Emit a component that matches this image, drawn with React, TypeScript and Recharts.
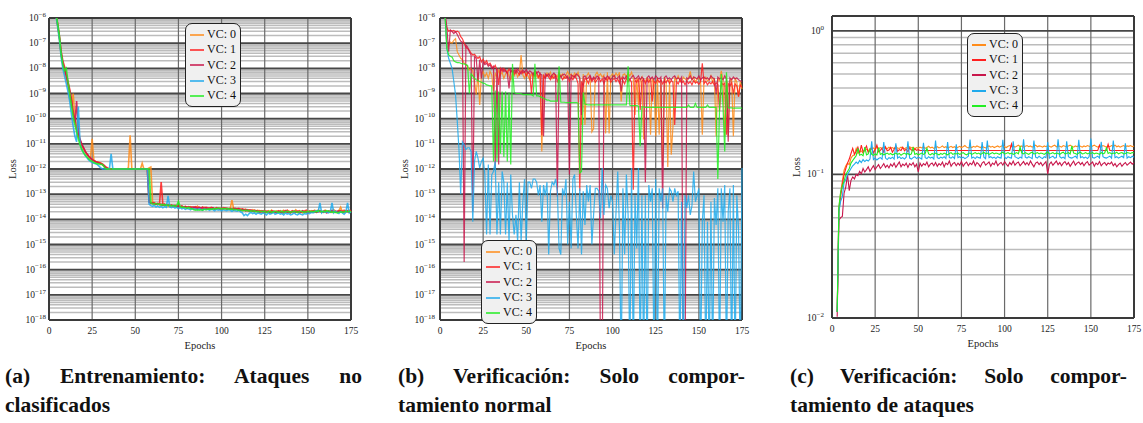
import { LineChart, Line, XAxis, YAxis, CartesianGrid } from 'recharts'

// epochs 3..175 shared by every panel
const epochs = Array.from({ length: 173 }, (_, i) => i + 3)
const epochTicks = [0, 25, 50, 75, 100, 125, 150, 175]
const vcNames = ['VC: 0', 'VC: 1', 'VC: 2', 'VC: 3', 'VC: 4']
const vcColors = ['#ff8c1a', '#ff1f1f', '#c8164b', '#20aaec', '#22ee22']

const lossTicksAB = [1e-18, 1e-17, 1e-16, 1e-15, 1e-14, 1e-13, 1e-12, 1e-11, 1e-10, 1e-9, 1e-8, 1e-7, 1e-6]
const lossTicksC = [1e-2, 1e-1, 1]

// (a) Entrenamiento
const trainVc0 = [
  3e-6, 1.4e-6, 5e-7, 1.6e-7, 3.5e-8, 1.3e-8, 7e-9, 4e-9, 2e-9, 8e-10,
  3e-10, 1e-9, 1.2e-10, 4e-11, 2e-11, 1.2e-11, 8e-12, 6e-12, 4.5e-12, 3.6e-12,
  3e-12, 2.6e-12, 1.6e-11, 2.2e-12, 2e-12, 1.9e-12, 1.8e-12, 1.7e-12, 1.5e-12, 1.3e-12,
  1.1e-12, 1.05e-12, 1e-12, 1e-12, 1e-12, 1e-12, 1e-12, 1e-12, 1e-12, 1e-12,
  1e-12, 1e-12, 1e-12, 1.1e-12, 2.2e-11, 1e-12, 1e-12, 1e-12, 1e-12, 1e-12,
  1e-12, 1.7e-12, 1e-12, 1e-12, 1e-12, 1.1e-12, 1.2e-12, 5e-14, 4.4e-14, 4e-14,
  3.8e-14, 4.2e-14, 3.6e-14, 3.9e-14, 3.5e-14, 3.7e-14, 3.4e-14, 3.3e-14, 3.6e-14, 3.2e-14,
  3.4e-14, 3.1e-14, 3.3e-14, 3e-14, 3.2e-14, 2.9e-14, 3.1e-14, 3e-14, 2.8e-14, 3.2e-14,
  2.9e-14, 3e-14, 2.7e-14, 3.3e-14, 2.8e-14, 2.9e-14, 2.6e-14, 3e-14, 2.7e-14, 2.8e-14,
  2.6e-14, 2.9e-14, 2.7e-14, 2.5e-14, 2.8e-14, 2.6e-14, 2.7e-14, 2.5e-14, 2.6e-14, 2.8e-14,
  2.5e-14, 2.7e-14, 2.6e-14, 5.8e-14, 2.6e-14, 2.5e-14, 2.7e-14, 2.4e-14, 2.6e-14, 2.3e-14,
  2.5e-14, 2.2e-14, 2.4e-14, 2.3e-14, 2.1e-14, 2.4e-14, 2.2e-14, 2.1e-14, 2.3e-14, 2e-14,
  2.2e-14, 2e-14, 2.1e-14, 1.9e-14, 2.2e-14, 2e-14, 2.3e-14, 1.9e-14, 2.1e-14, 2e-14,
  2.2e-14, 1.9e-14, 2.1e-14, 2.3e-14, 1.9e-14, 2e-14, 2.2e-14, 1.8e-14, 2.1e-14, 2e-14,
  2.4e-14, 1.9e-14, 2.1e-14, 2e-14, 1.8e-14, 2.2e-14, 2e-14, 2.1e-14, 1.9e-14, 2.2e-14,
  2e-14, 2.3e-14, 1.9e-14, 2.1e-14, 2.2e-14, 2e-14, 1.9e-14, 2.3e-14, 2e-14, 2.1e-14,
  2.2e-14, 1.9e-14, 2.4e-14, 2.1e-14, 2e-14, 2.2e-14, 3e-14, 2e-14, 1.9e-14, 2.2e-14,
  2.1e-14, 2.3e-14, 2e-14,
]
const trainVc1 = [
  3e-6, 1.6e-6, 6e-7, 2e-7, 5e-8, 2e-8, 1.2e-8, 6e-9, 3e-9, 1.5e-9,
  6e-10, 2e-10, 9e-11, 4e-11, 2.2e-11, 1.4e-11, 9e-12, 7e-12, 5e-12, 4e-12,
  3.3e-12, 2.8e-12, 2.4e-12, 2.2e-12, 2e-12, 1.9e-12, 1.8e-12, 1.7e-12, 1.6e-12, 1.4e-12,
  1.2e-12, 1.1e-12, 1e-12, 1e-12, 1e-12, 1e-12, 1e-12, 1e-12, 1e-12, 1e-12,
  1e-12, 1e-12, 1e-12, 1e-12, 1e-12, 1e-12, 1e-12, 1e-12, 1e-12, 1e-12,
  1e-12, 1e-12, 1e-12, 1e-12, 1e-12, 5e-14, 4.5e-14, 4.2e-14, 4.6e-14, 4e-14,
  4.3e-14, 3.9e-14, 3e-13, 3.8e-14, 4e-14, 3.6e-14, 3.8e-14, 3.5e-14, 3.7e-14, 3.4e-14,
  3.6e-14, 3.3e-14, 3.5e-14, 3.2e-14, 3.4e-14, 3.1e-14, 3.3e-14, 3e-14, 3.2e-14, 2.9e-14,
  3.1e-14, 2.8e-14, 3.2e-14, 2.9e-14, 3e-14, 2.7e-14, 3.1e-14, 2.8e-14, 3e-14, 2.9e-14,
  2.7e-14, 3e-14, 2.8e-14, 2.6e-14, 2.9e-14, 2.7e-14, 2.8e-14, 2.6e-14, 2.9e-14, 2.7e-14,
  2.8e-14, 2.6e-14, 2.7e-14, 2.5e-14, 2.8e-14, 2.6e-14, 2.5e-14, 2.7e-14, 2.4e-14, 2.6e-14,
  2.3e-14, 2.5e-14, 2.2e-14, 2.4e-14, 2.3e-14, 2.1e-14, 2.3e-14, 2.2e-14, 2e-14, 2.2e-14,
  2.1e-14, 1.9e-14, 2.2e-14, 2e-14, 2.1e-14, 1.8e-14, 2.2e-14, 2e-14, 1.9e-14, 2.1e-14,
  2e-14, 2.2e-14, 1.8e-14, 2.1e-14, 2e-14, 2.3e-14, 1.9e-14, 2e-14, 2.2e-14, 1.9e-14,
  2.1e-14, 2e-14, 2.2e-14, 1.9e-14, 2.1e-14, 2e-14, 2.3e-14, 1.9e-14, 2.1e-14, 2e-14,
  2.2e-14, 1.9e-14, 2.1e-14, 2.3e-14, 2e-14, 2.1e-14, 1.9e-14, 2.2e-14, 2e-14, 2.1e-14,
  2e-14, 2.3e-14, 2e-14, 2.1e-14, 1.9e-14, 2.2e-14, 2e-14, 2.1e-14, 2.3e-14, 2e-14,
  2.2e-14, 2.1e-14, 2.3e-14,
]
const trainVc2 = [
  3e-6, 1.5e-6, 5.5e-7, 1.8e-7, 4e-8, 1.6e-8, 9e-9, 5e-9, 2.5e-9, 1.2e-9,
  5e-10, 1.5e-10, 7e-11, 5e-10, 3e-11, 1.5e-11, 1e-11, 7e-12, 5e-12, 4e-12,
  3.2e-12, 2.7e-12, 2.3e-12, 2.1e-12, 1.9e-12, 1.8e-12, 1.7e-12, 1.6e-12, 1.5e-12, 1.3e-12,
  1.1e-12, 1e-12, 1e-12, 1e-12, 1e-12, 1e-12, 1e-12, 1e-12, 1e-12, 1e-12,
  1e-12, 1e-12, 1e-12, 1e-12, 1e-12, 1e-12, 1e-12, 1e-12, 1e-12, 1e-12,
  1e-12, 1e-12, 1e-12, 1e-12, 1e-12, 4.8e-14, 4.3e-14, 4.5e-14, 4.1e-14, 3.9e-14,
  4.2e-14, 3.8e-14, 4e-14, 3.7e-14, 3.9e-14, 3.5e-14, 3.7e-14, 3.4e-14, 3.6e-14, 3.3e-14,
  3.5e-14, 3.2e-14, 3.4e-14, 3.1e-14, 3.3e-14, 3e-14, 3.2e-14, 2.9e-14, 3.1e-14, 3e-14,
  2.8e-14, 3.1e-14, 2.9e-14, 2.7e-14, 3e-14, 2.8e-14, 2.9e-14, 2.7e-14, 2.9e-14, 2.6e-14,
  2.8e-14, 2.7e-14, 2.9e-14, 2.6e-14, 2.7e-14, 2.8e-14, 2.5e-14, 2.7e-14, 2.6e-14, 2.8e-14,
  2.6e-14, 2.5e-14, 2.7e-14, 2.6e-14, 2.4e-14, 2.7e-14, 2.5e-14, 2.6e-14, 2.3e-14, 2.5e-14,
  2.4e-14, 2.2e-14, 2.4e-14, 2.1e-14, 2.3e-14, 2.2e-14, 2e-14, 2.2e-14, 2.1e-14, 1.9e-14,
  2e-14, 2.2e-14, 1.8e-14, 2.1e-14, 1.9e-14, 2e-14, 1.8e-14, 2.1e-14, 2e-14, 1.8e-14,
  2.1e-14, 1.9e-14, 2e-14, 1.8e-14, 2.2e-14, 1.9e-14, 2e-14, 1.8e-14, 2e-14, 2.1e-14,
  1.9e-14, 2.1e-14, 1.8e-14, 2e-14, 2.2e-14, 1.9e-14, 2e-14, 1.8e-14, 2.1e-14, 1.9e-14,
  2e-14, 2.1e-14, 1.9e-14, 2e-14, 2.2e-14, 1.9e-14, 2.1e-14, 2e-14, 1.8e-14, 2.1e-14,
  1.9e-14, 2.2e-14, 2e-14, 1.9e-14, 2.1e-14, 2e-14, 2.2e-14, 1.9e-14, 2e-14, 2.1e-14,
  2e-14, 1.9e-14, 2.1e-14,
]
const trainVc3 = [
  3e-6, 1.3e-6, 4.5e-7, 1.4e-7, 3e-8, 1e-8, 5e-9, 2.5e-9, 1.2e-9, 5e-10,
  1.5e-10, 5e-11, 2e-11, 1.2e-11, 3e-10, 1e-11, 6e-12, 4.5e-12, 3.5e-12, 2.8e-12,
  2.3e-12, 2e-12, 1.8e-12, 1.7e-12, 1.6e-12, 1.5e-12, 1.3e-12, 1.1e-12, 1e-12, 1e-12,
  1e-12, 1e-12, 1e-12, 4e-12, 1e-12, 1e-12, 1e-12, 1e-12, 1e-12, 1e-12,
  1e-12, 1e-12, 1e-12, 1e-12, 1e-12, 1e-12, 1e-12, 1e-12, 1e-12, 1e-12,
  1e-12, 1e-12, 1e-12, 1e-12, 1e-12, 4e-14, 3.5e-14, 3.3e-14, 3.6e-14, 3.1e-14,
  3.4e-14, 3e-14, 3.3e-14, 2.9e-14, 3.2e-14, 3e-14, 8.5e-14, 3.1e-14, 2.9e-14, 3.2e-14,
  2.8e-14, 3e-14, 2.7e-14, 2.9e-14, 2.6e-14, 2.8e-14, 2.5e-14, 2.7e-14, 2.6e-14, 2.4e-14,
  2.7e-14, 2.5e-14, 2.6e-14, 2.4e-14, 2.6e-14, 2.5e-14, 2.3e-14, 2.6e-14, 2.4e-14, 2.5e-14,
  2.3e-14, 2.5e-14, 2.4e-14, 2.2e-14, 2.5e-14, 2.3e-14, 2.4e-14, 2.2e-14, 2.4e-14, 2.3e-14,
  2.2e-14, 2.4e-14, 2.3e-14, 2.1e-14, 2.3e-14, 2.2e-14, 2.1e-14, 2.3e-14, 2e-14, 1.8e-14,
  1.4e-14, 1.6e-14, 1.4e-14, 1.7e-14, 1.9e-14, 1.7e-14, 1.8e-14, 1.6e-14, 1.8e-14, 1.7e-14,
  1.6e-14, 1.8e-14, 1.7e-14, 1.5e-14, 1.8e-14, 1.6e-14, 1.7e-14, 1.9e-14, 1.6e-14, 1.7e-14,
  1.8e-14, 1.6e-14, 1.7e-14, 1.5e-14, 1.8e-14, 1.6e-14, 1.7e-14, 1.5e-14, 1.6e-14, 1.8e-14,
  1.6e-14, 1.5e-14, 1.7e-14, 1.6e-14, 1.5e-14, 1.7e-14, 1.6e-14, 1.8e-14, 1.7e-14, 1.9e-14,
  1.8e-14, 2e-14, 2.2e-14, 2e-14, 4.5e-14, 1.8e-14, 2.1e-14, 1.9e-14, 2e-14, 1.8e-14,
  2e-14, 4.5e-14, 1.8e-14, 2.1e-14, 1.9e-14, 1.7e-14, 2e-14, 1.8e-14, 1.6e-14, 1.9e-14,
  4.5e-14, 1.8e-14, 2e-14,
]
const trainVc4 = [
  3e-6, 1.5e-6, 6e-7, 2e-7, 4e-8, 1.5e-8, 8e-9, 1e-8, 3e-9, 1e-9,
  3.5e-10, 1.2e-10, 6e-11, 3e-11, 1.6e-11, 9e-12, 6e-12, 4.5e-12, 3.5e-12, 3e-12,
  2.5e-12, 2.2e-12, 2e-12, 1.8e-12, 1.7e-12, 1.6e-12, 1.6e-12, 1.5e-12, 1.5e-12, 1.2e-12,
  1e-12, 1e-12, 1e-12, 1e-12, 1e-12, 1e-12, 1e-12, 1e-12, 1e-12, 1e-12,
  1e-12, 1e-12, 1e-12, 1e-12, 1e-12, 1e-12, 1e-12, 1e-12, 1e-12, 1e-12,
  1e-12, 1e-12, 1e-12, 1e-12, 1e-12, 1e-12, 4.5e-14, 4.2e-14, 4e-14, 4.3e-14,
  3.9e-14, 4.1e-14, 3.7e-14, 3.9e-14, 3.6e-14, 3.8e-14, 3.5e-14, 3.7e-14, 3.4e-14, 3.6e-14,
  3.3e-14, 3.5e-14, 5e-14, 3.2e-14, 3e-14, 3.1e-14, 2.9e-14, 2.8e-14, 3e-14, 2.7e-14,
  2.6e-14, 2.4e-14, 2.3e-14, 2.4e-14, 2.3e-14, 2.4e-14, 2.3e-14, 2.5e-14, 2.4e-14, 2.5e-14,
  2.6e-14, 2.5e-14, 2.6e-14, 2.7e-14, 2.6e-14, 2.8e-14, 2.7e-14, 2.6e-14, 2.7e-14, 2.6e-14,
  2.7e-14, 2.6e-14, 2.5e-14, 2.6e-14, 2.4e-14, 2.5e-14, 2.4e-14, 2.3e-14, 2.4e-14, 2.2e-14,
  2.3e-14, 2.2e-14, 2.3e-14, 2.1e-14, 2.2e-14, 2.1e-14, 2.2e-14, 2e-14, 2.1e-14, 2e-14,
  2.1e-14, 2e-14, 2.1e-14, 1.9e-14, 2e-14, 2.1e-14, 1.9e-14, 2e-14, 2.1e-14, 2e-14,
  1.9e-14, 2e-14, 2.1e-14, 1.9e-14, 2e-14, 2.1e-14, 2e-14, 1.9e-14, 2e-14, 2.1e-14,
  2e-14, 1.9e-14, 2e-14, 2.1e-14, 2e-14, 1.9e-14, 2e-14, 2.1e-14, 2e-14, 2.1e-14,
  2e-14, 2.1e-14, 2e-14, 2.2e-14, 2.1e-14, 2e-14, 2.1e-14, 2e-14, 2.2e-14, 2.1e-14,
  2e-14, 1.9e-14, 2e-14, 1.9e-14, 1.8e-14, 1.9e-14, 2e-14, 1.9e-14, 2e-14, 2.1e-14,
  2e-14, 2.1e-14, 2e-14,
]

// (b) Verificación, comportamiento normal (1e-20 = below the axis floor)
const normalVc0 = [
  1e-6, 6e-8, 8.5e-8, 1.1e-7, 1e-7, 1.3e-7, 1.5e-7, 4.6e-8, 3.4e-8, 2.5e-8,
  2.2e-8, 1.6e-8, 1.4e-8, 1.2e-8, 8.6e-9, 1e-8, 7.5e-9, 3e-9, 9e-10, 6.3e-9,
  3.5e-10, 5.5e-9, 7.5e-9, 4.7e-9, 6.5e-9, 4e-9, 7.5e-9, 5.5e-9, 1.2e-9, 6.3e-9,
  4.7e-9, 8.6e-9, 5.5e-9, 7e-9, 4e-9, 6e-9, 8e-9, 5e-9, 3.5e-9, 6.5e-9,
  5e-9, 7.5e-9, 4.5e-9, 6e-9, 3.4e-8, 5.5e-9, 4e-9, 6.5e-9, 5e-9, 3.5e-9,
  6e-9, 4.5e-9, 7e-9, 5e-9, 4e-9, 6e-9, 5e-12, 5.5e-9, 4.5e-9, 6.5e-9,
  5e-9, 7e-9, 4e-9, 6e-9, 5.5e-9, 4.5e-9, 7e-9, 5e-9, 6e-9, 4e-9,
  5.5e-9, 7.5e-9, 5e-9, 6e-9, 4.5e-9, 6.5e-9, 5e-9, 7e-9, 4e-9, 5.6e-11,
  6e-9, 5.6e-11, 5e-9, 6.5e-9, 4.5e-9, 3e-11, 4e-11, 5.5e-9, 7e-9, 5e-9,
  6e-9, 4.5e-9, 5.5e-9, 2.6e-11, 7e-9, 2.6e-11, 5e-9, 6e-9, 4.5e-9, 6.5e-9,
  5e-9, 7e-9, 4.8e-10, 5.5e-9, 6e-9, 4.5e-9, 6.5e-9, 5e-9, 7e-9, 4e-9,
  1.4e-10, 4.2e-9, 3.5e-10, 3.5e-9, 4.5e-9, 1.5e-11, 3.2e-9, 4.2e-9, 3.5e-9, 2.3e-11,
  3.8e-9, 2.8e-9, 2e-11, 4.2e-9, 2.3e-11, 3.5e-9, 1.3e-12, 4.5e-9, 3.2e-9, 1.2e-12,
  3.8e-9, 3.7e-12, 5e-11, 4.2e-9, 3.2e-9, 5e-9, 3.5e-9, 2.8e-9, 4.5e-9, 3.8e-9,
  3.2e-9, 4.2e-9, 7.5e-9, 3.5e-9, 4.5e-9, 2.8e-9, 3.8e-9, 4.2e-9, 3.2e-9, 2.3e-11,
  3.8e-9, 4.5e-9, 3.2e-9, 3.5e-9, 5e-9, 2.8e-9, 4.2e-9, 2e-11, 3.8e-9, 3.2e-9,
  8e-9, 3.5e-9, 2e-11, 4.2e-9, 2e-11, 3.2e-9, 3.8e-9, 2e-11, 4.2e-9, 2.8e-9,
  7.5e-10, 3e-9, 1.5e-9,
]
const normalVc1 = [
  1e-6, 4e-7, 3e-7, 3.3e-7, 3e-7, 3.2e-7, 2.8e-7, 3e-7, 2.7e-7, 1.8e-7,
  1.5e-7, 1e-7, 7e-8, 6e-8, 5.3e-8, 4e-8, 3.4e-8, 3.6e-8, 2.9e-8, 2.5e-8,
  2.9e-8, 1.8e-8, 2.3e-8, 1.6e-8, 2e-8, 1.4e-8, 1.6e-8, 1.2e-8, 1e-8, 1.3e-8,
  8.6e-9, 2.2e-9, 1e-8, 7.5e-9, 1e-8, 7.8e-9, 6.3e-9, 9.4e-9, 7e-9, 8.5e-9,
  6e-9, 9e-9, 7e-9, 5.5e-9, 8e-9, 6.5e-9, 7.5e-9, 5e-9, 7e-9, 6e-9,
  1e-9, 6.5e-9, 5e-9, 7e-9, 4.5e-9, 6e-9, 2.2e-11, 5e-9, 4e-9, 5.5e-9,
  4.5e-9, 3.5e-9, 5e-9, 4e-9, 5.5e-9, 3e-9, 4.5e-9, 5e-9, 3.5e-9, 4.5e-9,
  4e-9, 5e-9, 3e-9, 4.5e-9, 3.5e-9, 5e-9, 4e-9, 2.5e-9, 1.3e-13, 3e-9,
  2e-9, 4e-9, 3.5e-9, 2.5e-9, 4.5e-9, 3e-9, 4e-9, 2.8e-9, 3.5e-9, 4.5e-9,
  3e-9, 3.8e-9, 2.5e-9, 4e-9, 3.2e-9, 4.5e-9, 2.8e-9, 3.5e-9, 4e-9, 3e-9,
  3.8e-9, 2.6e-9, 4.2e-9, 3.2e-9, 2.4e-9, 4e-9, 3e-9, 3.6e-9, 2.8e-9, 1.5e-13,
  3.5e-9, 2.8e-9, 4e-9, 2.2e-10, 3e-9, 3.8e-9, 2.5e-9, 3.5e-9, 2.8e-9, 4e-9,
  4.8e-10, 3.2e-9, 2.5e-9, 3.8e-9, 2.8e-9, 3.5e-9, 2.4e-9, 3.2e-9, 2.7e-9, 3.6e-9,
  2.5e-9, 3.3e-9, 2.8e-9, 5.6e-11, 3e-9, 2.4e-9, 3.4e-9, 2.6e-9, 3.1e-9, 2.2e-9,
  3.2e-9, 2.5e-9, 3e-9, 2.2e-9, 3.3e-9, 2.6e-9, 2.9e-9, 2.3e-9, 3e-9, 1.6e-8,
  2.5e-9, 3.1e-9, 2.2e-9, 2.8e-9, 2.4e-9, 3e-9, 2.1e-9, 2.7e-9, 2.3e-9, 2e-10,
  2.8e-9, 2.2e-9, 2.6e-9, 2.3e-11, 2.5e-9, 2e-9, 2.7e-9, 1e-9, 2.4e-9, 2e-9,
  7.5e-10, 2.2e-9, 1.8e-9,
]
const normalVc2 = [
  1.5e-6, 4e-7, 4.6e-8, 3.3e-7, 2.9e-7, 2.4e-7, 2.9e-7, 2.2e-7, 1.6e-7, 1.2e-7,
  1.1e-7, 2e-16, 8.5e-8, 7e-8, 4.6e-8, 3.4e-8, 2e-14, 2.9e-8, 2.5e-8, 3e-9,
  2.2e-8, 4e-9, 1.8e-8, 1.4e-8, 1.6e-8, 1.2e-8, 1.4e-8, 1e-8, 1.2e-8, 1.1e-12,
  1e-8, 1.5e-12, 8.6e-9, 1e-8, 7.5e-9, 8.6e-9, 6.3e-9, 1.6e-9, 9e-9, 7e-9,
  8.5e-9, 6.5e-9, 9.5e-9, 7.5e-9, 6e-9, 8.5e-9, 7e-9, 9e-9, 6.5e-9, 8e-9,
  7e-9, 5.5e-9, 8e-9, 6.5e-9, 7.5e-9, 6e-9, 5.5e-9, 2e-11, 6e-9, 5e-9,
  6e-9, 4.5e-9, 5.5e-9, 6.5e-9, 5e-9, 8e-14, 6e-9, 4.5e-9, 5.5e-9, 6e-9,
  5e-9, 4.2e-9, 6e-13, 5.5e-9, 5e-9, 4.5e-9, 6e-9, 5.2e-9, 4.2e-9, 1.4e-10,
  4.5e-9, 5e-9, 3.8e-9, 4.2e-9, 5.2e-9, 3.5e-9, 4.5e-9, 3.8e-9, 5e-9, 4.2e-9,
  1e-20, 1e-20, 4.5e-9, 3.8e-9, 5e-9, 4.2e-9, 3.5e-9, 4.5e-9, 5.2e-9, 3.8e-9,
  4.2e-9, 5e-9, 1.2e-9, 4.5e-9, 3.8e-9, 5e-9, 4.2e-9, 3.5e-9, 4.5e-9, 5.2e-9,
  3.8e-9, 4.2e-9, 5e-9, 3.5e-9, 4.5e-9, 3.8e-9, 3e-13, 4.2e-9, 5e-9, 3.8e-9,
  4.5e-9, 3.5e-9, 5e-9, 4.2e-9, 3.8e-9, 4.5e-9, 2.7e-14, 4.2e-9, 5e-9, 3.8e-9,
  4.2e-9, 3.5e-9, 4.5e-9, 5e-9, 3.8e-9, 4.2e-9, 3.5e-9, 4.5e-9, 1e-20, 1e-20,
  4.2e-9, 3.8e-9, 5e-9, 3.5e-9, 4.5e-9, 4.2e-9, 3.8e-9, 5e-9, 3.5e-9, 4.2e-9,
  4.5e-9, 3.8e-9, 4.2e-9, 3.5e-9, 5e-9, 4.2e-9, 3.8e-9, 1e-9, 4.5e-9, 3.8e-9,
  4.2e-9, 3.5e-9, 5e-9, 3.8e-9, 1.2e-11, 4.2e-9, 3.5e-9, 4.5e-9, 3.8e-9, 4.2e-9,
  3.5e-9, 3.2e-9, 3e-9,
]
const normalVc3 = [
  1e-6, 6e-8, 2.5e-8, 1.6e-8, 1e-8, 3e-9, 9e-10, 8e-11, 6e-12, 1e-13,
  1.2e-11, 9e-12, 6e-12, 7e-12, 7e-12, 5e-12, 8e-15, 2e-12, 5e-12, 2.7e-12,
  1.1e-12, 2e-12, 2.7e-12, 6e-13, 2.5e-15, 1.5e-12, 2.5e-15, 6e-13, 8e-13, 2e-12,
  2.5e-15, 3e-13, 2.5e-15, 8e-13, 3e-13, 2.5e-15, 3e-13, 1.3e-15, 6e-13, 1.5e-14,
  2.5e-15, 1.5e-14, 1.3e-15, 3e-13, 1.3e-15, 5e-14, 4e-13, 1.3e-15, 3e-13, 3e-13,
  1.7e-13, 4e-13, 4e-13, 3e-13, 9e-14, 2.3e-13, 8e-15, 2.3e-13, 9e-14, 3e-13,
  4e-16, 1.3e-13, 3e-13, 2.3e-13, 4e-13, 1.3e-13, 7e-16, 4e-16, 1.7e-13, 9e-14,
  4e-13, 1e-15, 5e-14, 7e-16, 4e-13, 6e-13, 1.5e-14, 7e-16, 1.7e-13, 4e-16,
  1.3e-13, 6e-15, 2.3e-13, 5e-14, 2.3e-13, 1e-15, 1.5e-14, 1.7e-13, 1.7e-13, 1.3e-13,
  1.1e-14, 1.1e-12, 1.5e-14, 2.3e-13, 1.7e-13, 2.8e-14, 9e-14, 5e-14, 4e-16, 2e-14,
  8e-13, 4e-15, 1e-20, 1.7e-13, 4e-16, 6e-13, 1.5e-14, 1e-20, 1.1e-12, 1e-20,
  9e-14, 7e-16, 1.1e-12, 1e-20, 9e-14, 1e-20, 9e-14, 1e-20, 2.3e-13, 5e-14,
  1.7e-13, 1e-20, 4e-13, 1e-20, 1.7e-13, 5e-14, 1.7e-13, 1e-20, 9e-14, 2e-14,
  1.7e-13, 1.3e-13, 5e-14, 1.7e-13, 9e-14, 1.3e-13, 1e-20, 5e-14, 1e-20, 9e-14,
  2.8e-14, 9e-14, 1.5e-14, 3.5e-14, 8e-13, 5e-14, 9e-14, 1.7e-13, 1e-20, 8e-15,
  9e-14, 1e-20, 8e-15, 1e-20, 5e-14, 1e-20, 7e-14, 6e-15, 1.7e-13, 1e-20,
  1.7e-13, 8e-15, 2.3e-13, 1e-20, 2e-14, 1.7e-13, 1e-20, 2.3e-13, 1e-20, 9e-14,
  4e-15, 1e-20, 1.1e-12,
]
const normalVc4 = [
  1.2e-6, 6e-8, 3.5e-8, 3e-8, 2.8e-8, 2e-8, 1.8e-8, 1.7e-8, 1.7e-8, 1.6e-8,
  1.5e-8, 1.5e-8, 1.4e-8, 1.3e-8, 1e-9, 6e-9, 5e-9, 4e-9, 3.5e-9, 3.2e-9,
  3e-9, 2.8e-9, 2.6e-9, 2.5e-9, 2.2e-9, 2.1e-9, 2e-9, 2e-9, 2e-12, 1.3e-9,
  2e-12, 1.2e-9, 4e-12, 1.2e-9, 3e-12, 1.2e-9, 2e-12, 1.1e-9, 1.5e-12, 1.5e-8,
  1.1e-9, 1e-9, 1e-9, 1e-9, 1e-9, 9e-10, 9e-10, 9e-10, 9e-10, 9e-10,
  9e-10, 8e-10, 1.5e-8, 8e-10, 8e-10, 7.5e-10, 7e-10, 6.5e-10, 6e-10, 5.5e-10,
  5.5e-10, 5e-10, 5e-10, 5e-10, 5e-10, 5e-10, 1.2e-8, 4.5e-10, 4.5e-10, 4.5e-10,
  4.3e-10, 4.3e-10, 4.3e-10, 4.3e-10, 4.3e-10, 4.3e-10, 4.3e-10, 4.2e-10, 7e-13, 8e-13,
  1.1e-9, 3.8e-10, 3.6e-10, 3.5e-10, 3.5e-10, 3.5e-10, 3.5e-10, 3.5e-10, 3.5e-10, 3.5e-10,
  3.5e-10, 3.5e-10, 3.5e-10, 3.5e-10, 3.5e-10, 3.5e-10, 3.5e-10, 3.5e-10, 3.5e-10, 3.5e-10,
  3.5e-10, 3.5e-10, 3.5e-10, 3.5e-10, 3.5e-10, 3.5e-10, 1.2e-8, 3.4e-10, 3.3e-10, 3.3e-10,
  3.3e-10, 3.3e-10, 3.2e-10, 8e-12, 3e-10, 2.9e-10, 2.8e-10, 2.8e-10, 2.8e-10, 2.8e-10,
  2.8e-10, 2.8e-10, 2.8e-10, 2.8e-10, 2.8e-10, 2.8e-10, 2.8e-10, 2.8e-10, 2.8e-10, 2.8e-10,
  2.8e-10, 2.8e-10, 2.8e-10, 2.8e-10, 2.8e-10, 2.8e-10, 2.8e-10, 2.8e-10, 2.8e-10, 2.8e-10,
  2.8e-10, 3.5e-10, 2.8e-10, 2.8e-10, 2.8e-10, 4e-10, 2.8e-10, 2.8e-10, 2.8e-10, 2.8e-10,
  2.8e-10, 2.8e-10, 3.5e-10, 2.8e-10, 2.8e-10, 2.8e-10, 2.8e-10, 2.8e-10, 4e-13, 2.8e-10,
  6e-9, 3e-10, 5e-12, 7e-9, 2.7e-10, 2.7e-10, 2.7e-10, 2.6e-10, 2.6e-10, 2.6e-10,
  2.6e-10, 2.6e-10, 2.6e-10,
]

// (c) Verificación, comportamiento de ataques
const attackVc0 = [
  0.011, 0.058, 0.075, 0.09, 0.107, 0.115, 0.12, 0.117, 0.13, 0.135,
  0.137, 0.152, 0.14, 0.144, 0.146, 0.141, 0.148, 0.15, 0.146, 0.151,
  0.149, 0.153, 0.15, 0.155, 0.151, 0.154, 0.152, 0.156, 0.153, 0.151,
  0.155, 0.152, 0.154, 0.151, 0.156, 0.153, 0.152, 0.155, 0.153, 0.151,
  0.154, 0.152, 0.156, 0.153, 0.155, 0.151, 0.154, 0.152, 0.155, 0.153,
  0.156, 0.152, 0.154, 0.157, 0.153, 0.155, 0.152, 0.154, 0.156, 0.153,
  0.155, 0.158, 0.154, 0.156, 0.153, 0.155, 0.157, 0.154, 0.156, 0.153,
  0.155, 0.157, 0.154, 0.156, 0.159, 0.155, 0.153, 0.156, 0.154, 0.157,
  0.155, 0.158, 0.156, 0.154, 0.157, 0.155, 0.153, 0.156, 0.158, 0.155,
  0.157, 0.154, 0.156, 0.158, 0.155, 0.157, 0.159, 0.156, 0.154, 0.157,
  0.159, 0.156, 0.158, 0.155, 0.157, 0.16, 0.156, 0.158, 0.155, 0.157,
  0.159, 0.156, 0.158, 0.155, 0.157, 0.16, 0.156, 0.158, 0.157, 0.155,
  0.158, 0.156, 0.159, 0.157, 0.155, 0.158, 0.16, 0.156, 0.158, 0.157,
  0.155, 0.159, 0.157, 0.156, 0.158, 0.16, 0.157, 0.155, 0.158, 0.156,
  0.159, 0.157, 0.155, 0.158, 0.156, 0.159, 0.157, 0.155, 0.158, 0.16,
  0.157, 0.155, 0.158, 0.156, 0.159, 0.157, 0.155, 0.158, 0.156, 0.159,
  0.157, 0.16, 0.156, 0.158, 0.155, 0.157, 0.159, 0.156, 0.158, 0.157,
  0.159, 0.156, 0.158,
]
const attackVc1 = [
  0.011, 0.056, 0.07, 0.085, 0.1, 0.11, 0.12, 0.128, 0.14, 0.152,
  0.138, 0.145, 0.155, 0.14, 0.16, 0.143, 0.15, 0.158, 0.142, 0.148,
  0.155, 0.141, 0.149, 0.16, 0.144, 0.147, 0.152, 0.143, 0.156, 0.146,
  0.148, 0.154, 0.143, 0.15, 0.158, 0.145, 0.149, 0.147, 0.155, 0.146,
  0.15, 0.144, 0.153, 0.148, 0.146, 0.151, 0.147, 0.149, 0.147, 0.147,
  0.147, 0.147, 0.147, 0.147, 0.147, 0.147, 0.147, 0.147, 0.147, 0.147,
  0.147, 0.147, 0.147, 0.147, 0.147, 0.147, 0.147, 0.147, 0.147, 0.147,
  0.147, 0.147, 0.147, 0.147, 0.147, 0.147, 0.147, 0.147, 0.147, 0.147,
  0.147, 0.147, 0.147, 0.147, 0.147, 0.147, 0.147, 0.147, 0.147, 0.147,
  0.147, 0.147, 0.147, 0.147, 0.147, 0.147, 0.147, 0.147, 0.147, 0.147,
  0.147, 0.163, 0.147, 0.147, 0.147, 0.147, 0.147, 0.147, 0.147, 0.147,
  0.147, 0.147, 0.147, 0.147, 0.147, 0.147, 0.147, 0.147, 0.147, 0.147,
  0.147, 0.147, 0.147, 0.147, 0.147, 0.147, 0.147, 0.147, 0.147, 0.147,
  0.147, 0.147, 0.147, 0.147, 0.147, 0.147, 0.147, 0.147, 0.147, 0.147,
  0.147, 0.147, 0.147, 0.147, 0.147, 0.147, 0.147, 0.147, 0.147, 0.147,
  0.147, 0.147, 0.16, 0.147, 0.147, 0.147, 0.147, 0.162, 0.147, 0.147,
  0.147, 0.147, 0.147, 0.147, 0.147, 0.147, 0.147, 0.147, 0.147, 0.147,
  0.147, 0.147, 0.147,
]
const attackVc2 = [
  0.0102, 0.048, 0.05, 0.051, 0.074, 0.082, 0.1, 0.077, 0.091, 0.096,
  0.093, 0.1, 0.098, 0.105, 0.101, 0.11, 0.104, 0.108, 0.113, 0.105,
  0.11, 0.115, 0.108, 0.113, 0.117, 0.11, 0.114, 0.119, 0.112, 0.116,
  0.111, 0.118, 0.114, 0.12, 0.112, 0.117, 0.122, 0.113, 0.118, 0.115,
  0.12, 0.112, 0.119, 0.116, 0.121, 0.113, 0.118, 0.104, 0.12, 0.114,
  0.119, 0.116, 0.122, 0.113, 0.118, 0.12, 0.115, 0.121, 0.114, 0.119,
  0.116, 0.122, 0.113, 0.12, 0.117, 0.124, 0.114, 0.119, 0.121, 0.115,
  0.12, 0.116, 0.123, 0.114, 0.119, 0.122, 0.115, 0.12, 0.117, 0.124,
  0.115, 0.121, 0.118, 0.113, 0.12, 0.123, 0.116, 0.119, 0.122, 0.114,
  0.12, 0.117, 0.124, 0.115, 0.119, 0.121, 0.116, 0.123, 0.118, 0.114,
  0.121, 0.117, 0.124, 0.116, 0.12, 0.122, 0.115, 0.119, 0.123, 0.117,
  0.121, 0.116, 0.124, 0.118, 0.113, 0.12, 0.122, 0.117, 0.121, 0.115,
  0.119, 0.123, 0.101, 0.118, 0.122, 0.116, 0.12, 0.124, 0.117, 0.121,
  0.115, 0.12, 0.123, 0.117, 0.121, 0.114, 0.119, 0.124, 0.116, 0.12,
  0.122, 0.117, 0.121, 0.115, 0.12, 0.123, 0.116, 0.119, 0.122, 0.114,
  0.12, 0.117, 0.123, 0.115, 0.119, 0.121, 0.116, 0.12, 0.118, 0.122,
  0.115, 0.119, 0.113, 0.117, 0.12, 0.114, 0.118, 0.121, 0.116, 0.119,
  0.122, 0.118, 0.121,
]
const attackVc3 = [
  0.011, 0.055, 0.065, 0.07, 0.088, 0.092, 0.1, 0.105, 0.11, 0.115,
  0.118, 0.122, 0.119, 0.125, 0.121, 0.127, 0.123, 0.126, 0.124, 0.128,
  0.17, 0.127, 0.13, 0.126, 0.129, 0.131, 0.128, 0.168, 0.13, 0.127,
  0.131, 0.129, 0.132, 0.128, 0.165, 0.13, 0.133, 0.129, 0.131, 0.128,
  0.132, 0.17, 0.13, 0.128, 0.131, 0.133, 0.129, 0.132, 0.13, 0.128,
  0.166, 0.131, 0.129, 0.133, 0.13, 0.132, 0.128, 0.172, 0.131, 0.129,
  0.132, 0.13, 0.133, 0.129, 0.168, 0.131, 0.13, 0.133, 0.129, 0.162,
  0.131, 0.133, 0.13, 0.132, 0.129, 0.131, 0.134, 0.175, 0.13, 0.132,
  0.129, 0.133, 0.131, 0.13, 0.168, 0.132, 0.129, 0.172, 0.131, 0.133,
  0.13, 0.132, 0.129, 0.133, 0.131, 0.13, 0.174, 0.132, 0.129, 0.133,
  0.131, 0.13, 0.17, 0.133, 0.131, 0.129, 0.132, 0.13, 0.176, 0.132,
  0.13, 0.133, 0.131, 0.129, 0.172, 0.132, 0.13, 0.134, 0.131, 0.129,
  0.133, 0.131, 0.168, 0.13, 0.132, 0.134, 0.13, 0.131, 0.176, 0.133,
  0.13, 0.132, 0.129, 0.17, 0.133, 0.131, 0.13, 0.132, 0.134, 0.13,
  0.174, 0.131, 0.133, 0.13, 0.132, 0.129, 0.133, 0.178, 0.131, 0.13,
  0.132, 0.134, 0.13, 0.169, 0.133, 0.131, 0.13, 0.132, 0.134, 0.13,
  0.172, 0.131, 0.133, 0.13, 0.132, 0.134, 0.131, 0.165, 0.13, 0.133,
  0.131, 0.134, 0.132,
]
const attackVc4 = [
  0.011, 0.06, 0.075, 0.083, 0.09, 0.1, 0.105, 0.11, 0.12, 0.125,
  0.13, 0.135, 0.152, 0.136, 0.138, 0.135, 0.155, 0.137, 0.139, 0.15,
  0.138, 0.136, 0.139, 0.137, 0.154, 0.138, 0.14, 0.137, 0.139, 0.141,
  0.138, 0.14, 0.137, 0.139, 0.141, 0.138, 0.14, 0.136, 0.139, 0.141,
  0.138, 0.14, 0.137, 0.139, 0.155, 0.138, 0.14, 0.137, 0.139, 0.141,
  0.138, 0.14, 0.152, 0.139, 0.137, 0.14, 0.138, 0.141, 0.139, 0.137,
  0.14, 0.138, 0.141, 0.139, 0.137, 0.14, 0.142, 0.138, 0.14, 0.139,
  0.141, 0.138, 0.14, 0.142, 0.139, 0.137, 0.14, 0.141, 0.138, 0.14,
  0.142, 0.139, 0.141, 0.138, 0.14, 0.143, 0.139, 0.141, 0.138, 0.14,
  0.142, 0.139, 0.141, 0.14, 0.138, 0.141, 0.143, 0.139, 0.14, 0.142,
  0.139, 0.141, 0.138, 0.14, 0.142, 0.139, 0.155, 0.141, 0.139, 0.142,
  0.14, 0.138, 0.141, 0.143, 0.139, 0.14, 0.142, 0.139, 0.141, 0.14,
  0.138, 0.141, 0.143, 0.139, 0.14, 0.142, 0.139, 0.141, 0.14, 0.138,
  0.141, 0.143, 0.139, 0.14, 0.142, 0.139, 0.158, 0.141, 0.14, 0.138,
  0.141, 0.143, 0.139, 0.14, 0.142, 0.139, 0.141, 0.14, 0.142, 0.139,
  0.141, 0.14, 0.138, 0.142, 0.139, 0.141, 0.153, 0.14, 0.142, 0.139,
  0.141, 0.14, 0.143, 0.139, 0.141, 0.142, 0.139, 0.14, 0.142, 0.141,
  0.14, 0.142, 0.141,
]

const serif = '"Liberation Serif", "DejaVu Serif", serif'

type Row = { ep: number; [k: string]: number }

function buildRows(series: number[][]): Row[] {
  return epochs.map((ep, i) => {
    const row: Row = { ep }
    series.forEach((s, j) => {
      row[`vc${j}`] = s[i]
    })
    return row
  })
}

// log minor gridlines 2..9 inside each decade
const minorOf = (ticks: number[]) =>
  ticks.slice(0, -1).flatMap((d) => [2, 3, 4, 5, 6, 7, 8, 9].map((k) => k * d))

function PowTick({ x, y, payload }: any) {
  const exp = Math.round(Math.log10(payload.value))
  return (
    <text x={x} y={y + 3} textAnchor="end" fontSize={9.5} fill="#222" fontFamily={serif}>
      10
      <tspan dy={-4.2} fontSize={7}>
        {exp < 0 ? `\u2212${-exp}` : `${exp}`}
      </tspan>
    </text>
  )
}

interface PanelProps {
  left: number
  width: number
  yAxisWidth: number
  top: number
  rows: Row[]
  yDomain: [number, number]
  yTicks: number[]
  lineWidth: number
  lineOpacity: number
  lossX: number
  tickGap: number
}

function Panel(p: PanelProps) {
  const plotH = 302
  const height = p.top + plotH + 35
  const plotW = 302
  const plotMid = p.top + plotH / 2
  return (
    <div style={{ position: 'absolute', left: p.left, top: 0 }}>
      <LineChart
        width={p.width}
        height={height}
        data={p.rows}
        margin={{ top: p.top, right: p.width - p.yAxisWidth - plotW, bottom: 0, left: 0 }}
      >
        <CartesianGrid
          vertical={false}
          horizontalValues={minorOf(p.yTicks)}
          stroke="#bcbcbc"
          strokeWidth={1.5}
        />
        <CartesianGrid
          horizontal={false}
          verticalValues={epochTicks}
          stroke="#6a6a6a"
          strokeWidth={1.2}
        />
        <CartesianGrid vertical={false} horizontalValues={p.yTicks} stroke="#474747" strokeWidth={1.8} />
        <CartesianGrid
          horizontalValues={p.yDomain}
          verticalValues={[0, 175]}
          stroke="#3a3a3a"
          strokeWidth={2}
        />
        <XAxis
          dataKey="ep"
          type="number"
          domain={[0, 175]}
          ticks={epochTicks}
          tickLine={false}
          axisLine={false}
          tickSize={6}
          tickMargin={1}
          height={35}
          tick={{ fontSize: 9.5, fill: '#222', fontFamily: serif }}
          label={() => (
            <text
              x={p.yAxisWidth + plotW / 2}
              y={p.top + plotH + 28.5}
              textAnchor="middle"
              fontSize={10.5}
              fill="#222"
              fontFamily={serif}
            >
              Epochs
            </text>
          )}
        />
        <YAxis
          type="number"
          scale="log"
          domain={p.yDomain}
          allowDataOverflow
          ticks={p.yTicks}
          interval={0}
          tick={<PowTick />}
          tickLine={false}
          axisLine={false}
          tickSize={0}
          tickMargin={p.tickGap}
          width={p.yAxisWidth}
          label={() => (
            <text
              x={p.lossX}
              y={plotMid}
              transform={`rotate(-90 ${p.lossX} ${plotMid})`}
              textAnchor="middle"
              dominantBaseline="central"
              fontSize={10.5}
              fill="#222"
              fontFamily={serif}
            >
              Loss
            </text>
          )}
        />
        {vcNames.map((name, i) => (
          <Line
            key={name}
            name={name}
            dataKey={`vc${i}`}
            type="linear"
            stroke={vcColors[i]}
            strokeOpacity={p.lineOpacity}
            strokeWidth={p.lineWidth}
            dot={false}
            activeDot={false}
            isAnimationActive={false}
          />
        ))}
      </LineChart>
    </div>
  )
}

function VcLegend({ left, top, opacity }: { left: number; top: number; opacity: number }) {
  return (
    <div
      style={{
        position: 'absolute',
        left,
        top,
        background: '#f0f0f0',
        border: '1.2px solid #222',
        borderRadius: 7,
        padding: '3px 4px 3px 4px',
        fontFamily: serif,
        fontSize: 12,
        lineHeight: '15.3px',
        color: '#111',
      }}
    >
      {vcNames.map((name, i) => (
        <div key={name} style={{ display: 'flex', alignItems: 'center', whiteSpace: 'nowrap' }}>
          <span
            style={{
              display: 'inline-block',
              width: 14,
              height: 2,
              background: vcColors[i],
              opacity,
              marginRight: 3,
              flexShrink: 0,
            }}
          />
          {name}
        </div>
      ))}
    </div>
  )
}

function Caption({ left, width, first, second }: { left: number; width: number; first: string; second: string }) {
  const line = { fontFamily: serif, fontWeight: 700, fontSize: 21.5, lineHeight: '28.5px', color: '#111' }
  return (
    <div style={{ position: 'absolute', left, top: 362, width }}>
      <div style={{ ...line, textAlign: 'justify', textAlignLast: 'justify' }}>{first}</div>
      <div style={line}>{second}</div>
    </div>
  )
}

const trainRows = buildRows([trainVc0, trainVc1, trainVc2, trainVc3, trainVc4])
const normalRows = buildRows([normalVc0, normalVc1, normalVc2, normalVc3, normalVc4])
const attackRows = buildRows([attackVc0, attackVc1, attackVc2, attackVc3, attackVc4])

export default function App() {
  return (
    <div style={{ position: 'absolute', left: 0, top: 0, width: 1143, height: 423, background: '#fff', overflow: 'hidden' }}>
      <Panel
        left={0}
        width={381}
        yAxisWidth={49}
        top={18}
        rows={trainRows}
        yDomain={[1e-18, 1e-6]}
        yTicks={lossTicksAB}
        lineWidth={1.6}
        lineOpacity={0.85}
        lossX={12}
        tickGap={3}
      />
      <Panel
        left={385}
        width={381}
        yAxisWidth={55}
        top={18}
        rows={normalRows}
        yDomain={[1e-18, 1e-6]}
        yTicks={lossTicksAB}
        lineWidth={1.2}
        lineOpacity={0.85}
        lossX={19}
        tickGap={5}
      />
      <Panel
        left={770}
        width={373}
        yAxisWidth={62}
        top={16}
        rows={attackRows}
        yDomain={[1e-2, 1.27]}
        yTicks={lossTicksC}
        lineWidth={1.1}
        lineOpacity={1}
        lossX={26}
        tickGap={8}
      />
      <VcLegend left={185} top={23} opacity={0.75} />
      <VcLegend left={481} top={240} opacity={0.75} />
      <VcLegend left={967} top={33} opacity={1} />
      <Caption left={5} width={357} first="(a) Entrenamiento: Ataques no" second="clasificados" />
      <Caption left={398} width={347} first="(b) Verificación: Solo compor-" second="tamiento normal" />
      <Caption left={790} width={337} first="(c) Verificación: Solo compor-" second="tamiento de ataques" />
    </div>
  )
}
